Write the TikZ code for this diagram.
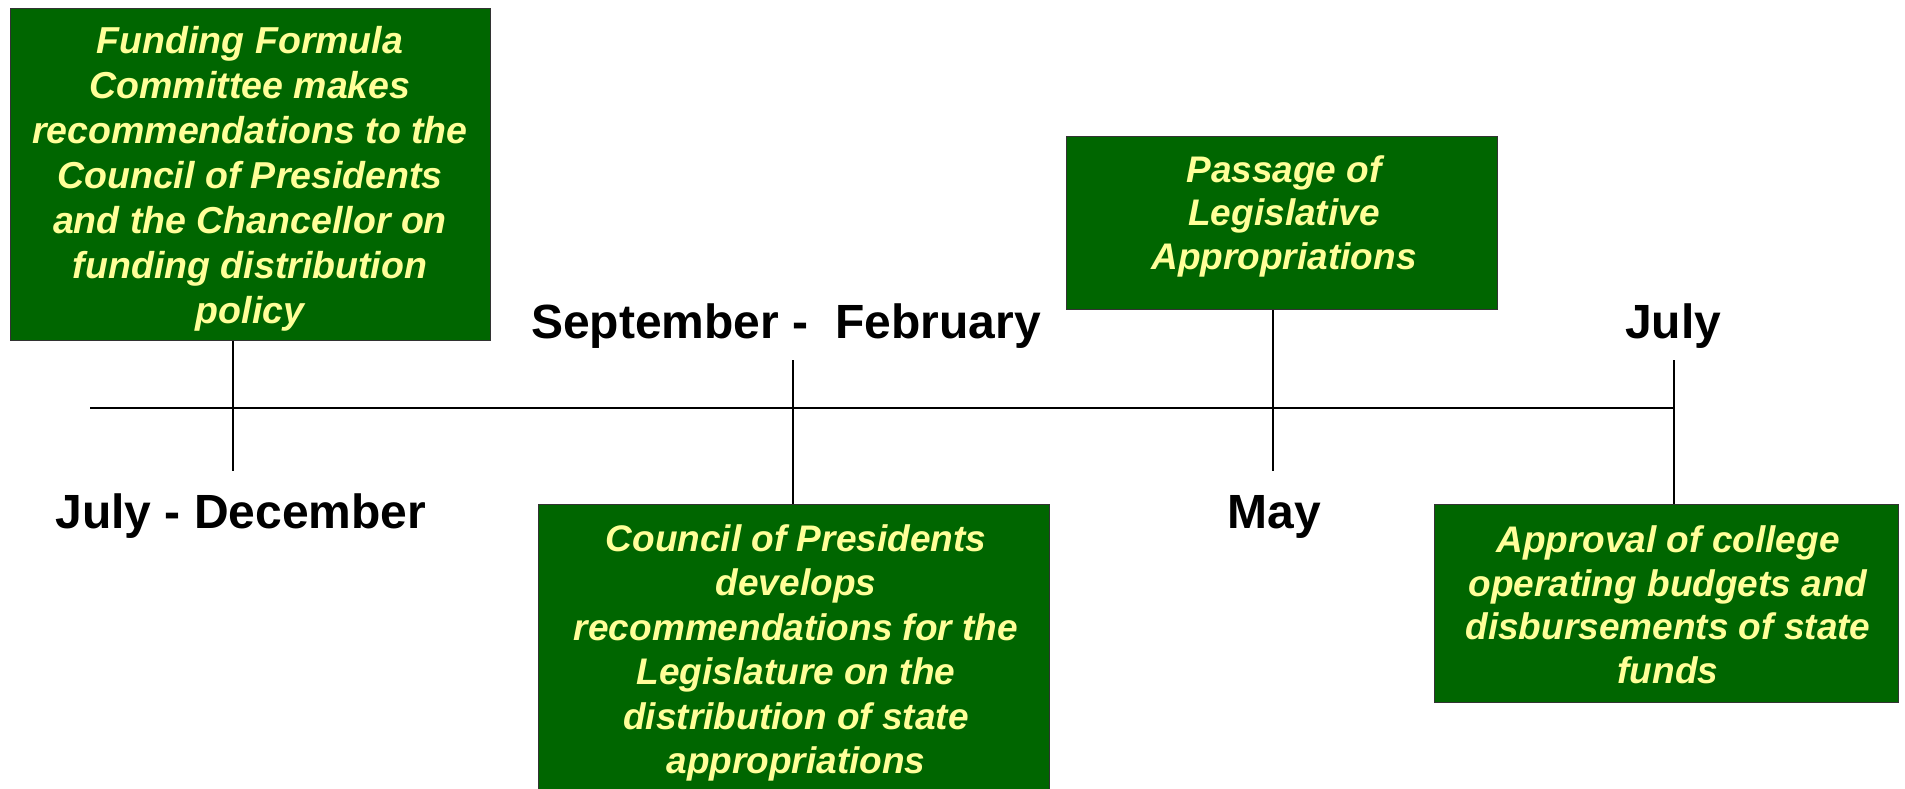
\documentclass[tikz,border=0pt]{standalone}
\usepackage{fontspec}
\setmainfont{Liberation Sans}
\usetikzlibrary{positioning}
\definecolor{boxgreen}{RGB}{0,102,0}
\definecolor{boxtext}{RGB}{255,255,153}

\begin{document}
\begin{tikzpicture}[x=1pt, y=-1pt, line width=2pt,
    card/.style = {draw=black!80, line width=1pt, fill=boxgreen, anchor=north west, inner sep=0pt},
    cardtext/.style = {text=boxtext, font=\fontsize{37}{43.5}\selectfont\bfseries\itshape, align=center, inner sep=0pt},
    month/.style = {font=\fontsize{48}{56}\selectfont\bfseries, anchor=base, inner sep=0pt}]
                \useasboundingbox (0,0) rectangle (1905,788);

                % boxes
                \node[card, minimum width=480pt, minimum height=332pt] (box_fund) at (10,8)     {};
                \node[card, minimum width=431pt, minimum height=173pt] (box_pass) at (1066,136) {};
                \node[card, minimum width=511pt, minimum height=300pt] (box_coun) at (538,504)  {};
                \node[card, minimum width=464pt, minimum height=198pt] (box_appr) at (1434,504) {};

                \node[cardtext, font=\fontsize{37.5}{45}\selectfont\bfseries\itshape] (txt_fund) at (250,179)
                    {Funding Formula\\Committee makes\\recommendations to the\\Council of Presidents\\and the Chancellor on\\funding distribution\\policy};
                \node[cardtext] (txt_pass) at (1284,216) {Passage of\\Legislative\\Appropriations};
                \node[cardtext, font=\fontsize{37}{44.5}\selectfont\bfseries\itshape] (txt_coun) at (796,653)
                    {Council of Presidents\\develops\\recommendations for the\\Legislature on the\\distribution of state\\appropriations};
                \node[cardtext] (txt_appr) at (1668,605)
                    {Approval of college\\operating budgets and\\disbursements of state\\funds};

                % timeline and ticks
                \coordinate (line_start) at (90,408);
                \coordinate (line_end)   at (1674,408);
                \coordinate (t_fund) at (233,471);
                \coordinate (t_sep)  at (793,360);
                \coordinate (t_pass) at (1273,471);
                \coordinate (t_jul)  at (1674,360);

                \draw
                    (line_start) -- (line_end)
                    (t_fund |- box_fund.south) -- (t_fund)
                    (t_sep) -- (t_sep |- box_coun.north)
                    (t_pass |- box_pass.south) -- (t_pass)
                    (t_jul) -- (t_jul |- box_appr.north)
                    ;

                % months
                \node[month] (m_sep)  at (786,338.5)  {September - \ February};
                \node[month] (m_jul)  at (1673,338.5) {July};
                \node[month] (m_dec)  at (241,528.5)  {July - December};
                \node[month] (m_may)  at (1274,528.5) {May};
            \end{tikzpicture}
\end{document}
